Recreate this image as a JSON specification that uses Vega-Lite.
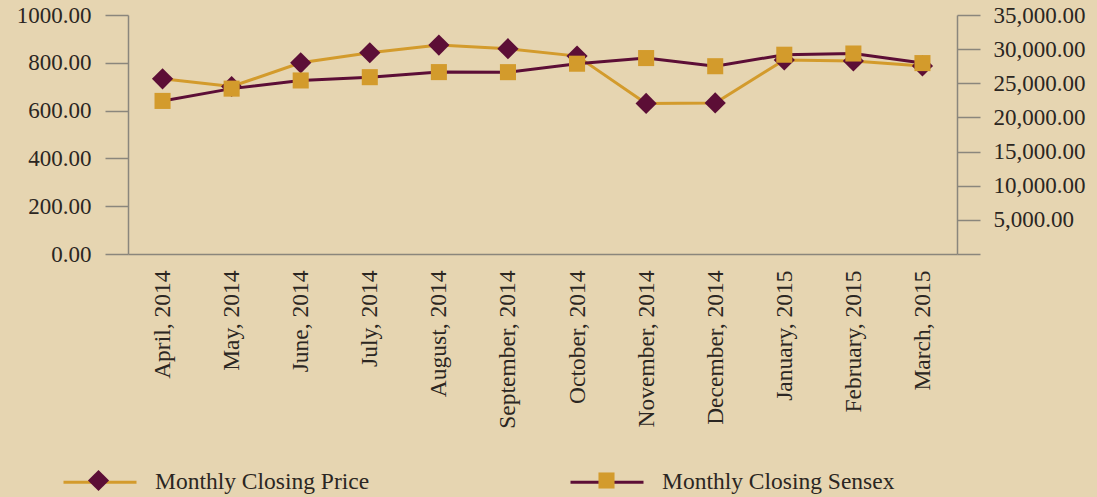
{
  "$schema": "https://vega.github.io/schema/vega-lite/v6.json",
  "width": 829,
  "height": 239,
  "autosize": {"type": "none"},
  "padding": {"left": 128, "top": 15, "right": 140, "bottom": 243},
  "background": "#E6D5B1",
  "config": {
    "view": {"stroke": null},
    "font": "Liberation Serif",
    "axis": {"labelFont": "Liberation Serif", "labelColor": "#2b2622", "domainColor": "#8a867c", "tickColor": "#8a867c", "domainWidth": 1.5, "tickWidth": 1.5, "grid": false, "title": null},
    "legend": {"labelFont": "Liberation Serif", "labelColor": "#2b2622", "labelLimit": 500}
  },
  "data": {
    "values": [
      {"month": "April, 2014", "series": "Monthly Closing Price", "value": 733},
      {"month": "May, 2014", "series": "Monthly Closing Price", "value": 701},
      {"month": "June, 2014", "series": "Monthly Closing Price", "value": 800},
      {"month": "July, 2014", "series": "Monthly Closing Price", "value": 842},
      {"month": "August, 2014", "series": "Monthly Closing Price", "value": 874},
      {"month": "September, 2014", "series": "Monthly Closing Price", "value": 859},
      {"month": "October, 2014", "series": "Monthly Closing Price", "value": 828},
      {"month": "November, 2014", "series": "Monthly Closing Price", "value": 630},
      {"month": "December, 2014", "series": "Monthly Closing Price", "value": 632},
      {"month": "January, 2015", "series": "Monthly Closing Price", "value": 812},
      {"month": "February, 2015", "series": "Monthly Closing Price", "value": 808},
      {"month": "March, 2015", "series": "Monthly Closing Price", "value": 787},
      {"month": "April, 2014", "series": "Monthly Closing Sensex", "value": 22418},
      {"month": "May, 2014", "series": "Monthly Closing Sensex", "value": 24217},
      {"month": "June, 2014", "series": "Monthly Closing Sensex", "value": 25414},
      {"month": "July, 2014", "series": "Monthly Closing Sensex", "value": 25895},
      {"month": "August, 2014", "series": "Monthly Closing Sensex", "value": 26638},
      {"month": "September, 2014", "series": "Monthly Closing Sensex", "value": 26631},
      {"month": "October, 2014", "series": "Monthly Closing Sensex", "value": 27866},
      {"month": "November, 2014", "series": "Monthly Closing Sensex", "value": 28694},
      {"month": "December, 2014", "series": "Monthly Closing Sensex", "value": 27499},
      {"month": "January, 2015", "series": "Monthly Closing Sensex", "value": 29183},
      {"month": "February, 2015", "series": "Monthly Closing Sensex", "value": 29361},
      {"month": "March, 2015", "series": "Monthly Closing Sensex", "value": 27957}
    ]
  },
  "encoding": {
    "x": {
      "field": "month",
      "type": "nominal",
      "sort": null,
      "scale": {"type": "point", "padding": 0.5},
      "axis": {"labelAngle": -90, "labelFontSize": 23.5, "ticks": false, "labelPadding": 16, "domainWidth": 1.5}
    }
  },
  "layer": [
    {
      "transform": [{"filter": "datum.series === 'Monthly Closing Price'"}],
      "encoding": {
        "y": {
          "field": "value",
          "type": "quantitative",
          "scale": {"domain": [0, 1000], "nice": false, "zero": true},
          "axis": {"orient": "left", "values": [0, 200, 400, 600, 800, 1000], "format": ".2f", "tickSize": 23, "labelPadding": 14, "labelFontSize": 23}
        }
      },
      "layer": [
        {
          "mark": {"type": "line", "strokeWidth": 3},
          "encoding": {
            "stroke": {
              "field": "series",
              "type": "nominal",
              "scale": {"domain": ["Monthly Closing Price", "Monthly Closing Sensex"], "range": ["#D39B2C", "#5C0E36"]},
              "legend": {"orient": "none", "legendX": -66, "legendY": 429, "direction": "horizontal", "title": null, "symbolType": "stroke", "symbolSize": 5329, "symbolStrokeWidth": 3, "labelFontSize": 23.5, "labelOffset": 17, "labelLimit": 500, "columnPadding": 194, "padding": 0, "zindex": 0}
            }
          }
        },
        {
          "mark": {"type": "point", "filled": true, "opacity": 1, "size": 5329, "strokeWidth": 0},
          "encoding": {
            "fill": {
              "field": "series",
              "type": "nominal",
              "scale": {"range": ["#5C0E36", "#D39B2C"]},
              "legend": {"orient": "none", "legendX": -66, "legendY": 429, "direction": "horizontal", "title": null, "symbolSize": 5329, "symbolStrokeWidth": 0, "symbolOpacity": 1, "labelFontSize": 23.5, "labelOffset": 17, "labelLimit": 500, "labelExpr": "''", "columnPadding": 418, "padding": 0, "zindex": 1}
            },
            "shape": {
              "field": "series",
              "type": "nominal",
              "scale": {"range": ["M0,-0.29L0.29,0L0,0.29L-0.29,0Z", "M-0.22,-0.22H0.22V0.22H-0.22Z"]}
            }
          }
        }
      ]
    },
    {
      "transform": [{"filter": "datum.series === 'Monthly Closing Sensex'"}],
      "encoding": {
        "y": {
          "field": "value",
          "type": "quantitative",
          "scale": {"domain": [0, 35000], "nice": false, "zero": true},
          "axis": {"orient": "right", "values": [0, 5000, 10000, 15000, 20000, 25000, 30000, 35000], "labelExpr": "datum.value === 0 ? '' : format(datum.value, ',.2f')", "tickSize": 23, "labelPadding": 13, "labelFontSize": 23}
        }
      },
      "layer": [
        {
          "mark": {"type": "line", "strokeWidth": 3},
          "encoding": {
            "stroke": {"field": "series", "type": "nominal"}
          }
        },
        {
          "mark": {"type": "point", "filled": true, "opacity": 1, "size": 5329, "strokeWidth": 0},
          "encoding": {
            "fill": {"field": "series", "type": "nominal"},
            "shape": {"field": "series", "type": "nominal"}
          }
        }
      ]
    }
  ],
  "resolve": {"scale": {"y": "independent"}}
}
